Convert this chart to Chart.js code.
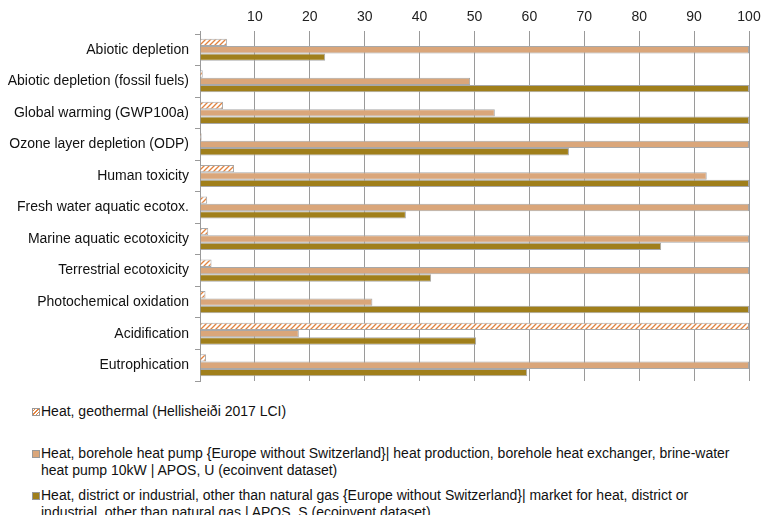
<!DOCTYPE html>
<html>
<head>
<meta charset="utf-8">
<script src="https://cdn.jsdelivr.net/npm/chart.js@4.4.0/dist/chart.umd.min.js"></script>
<style>
  body { margin: 0; background: #fff; font-family: "Liberation Sans", Arial, sans-serif; }
  #wrap { position: relative; width: 761px; height: 515px; }
  #legend { position: absolute; left: 0; top: 0; width: 761px; font-size: 14px; color: #111; }
  .item { position: absolute; left: 41px; line-height: 17px; white-space: nowrap; }
  .box { position: absolute; left: -9px; top: 5px; width: 6px; height: 6px; border: 1px solid #999; }
</style>
</head>
<body>
<div id="wrap">
  <canvas id="chart" width="761" height="390"></canvas>
  <div id="legend"></div>
</div>
<script>
const categories = [
  'Abiotic depletion',
  'Abiotic depletion (fossil fuels)',
  'Global warming (GWP100a)',
  'Ozone layer depletion (ODP)',
  'Human toxicity',
  'Fresh water aquatic ecotox.',
  'Marine aquatic ecotoxicity',
  'Terrestrial ecotoxicity',
  'Photochemical oxidation',
  'Acidification',
  'Eutrophication'
];
const geothermal = [4.9, 0.5, 4.2, 0.3, 6.2, 1.3, 1.5, 2.1, 1.0, 100, 1.1];
const boreholePump = [100, 49.2, 53.7, 100, 92.3, 100, 100, 100, 31.4, 18.0, 100];
const districtHeat = [22.8, 100, 100, 67.2, 100, 37.5, 84.0, 42.1, 100, 50.3, 59.6];
const xTicks = [0, 10, 20, 30, 40, 50, 60, 70, 80, 90, 100];

const seriesNames = [
  ['Heat, geothermal (Hellisheiði 2017 LCI)'],
  ['Heat, borehole heat pump {Europe without Switzerland}| heat production, borehole heat exchanger, brine-water',
   'heat pump 10kW | APOS, U (ecoinvent dataset)'],
  ['Heat, district or industrial, other than natural gas {Europe without Switzerland}| market for heat, district or',
   'industrial, other than natural gas | APOS, S (ecoinvent dataset)']
];

// hatch pattern for the geothermal bars
function hatch(size) {
  const c = document.createElement('canvas');
  c.width = size; c.height = size;
  const g = c.getContext('2d');
  g.fillStyle = '#ffffff';
  g.fillRect(0, 0, size, size);
  g.strokeStyle = '#E2833F';
  g.lineWidth = 1.3;
  g.beginPath();
  g.moveTo(0, size); g.lineTo(size, 0);
  g.moveTo(-1, 1); g.lineTo(1, -1);
  g.moveTo(size - 1, size + 1); g.lineTo(size + 1, size - 1);
  g.stroke();
  return g.createPattern(c, 'repeat');
}

const ctx = document.getElementById('chart').getContext('2d');
const geoFill = hatch(5);
const pumpColor = 'rgb(218,166,122)';
const districtColor = 'rgb(160,127,27)';

const chart = new Chart(ctx, {
  type: 'bar',
  data: {
    labels: categories,
    datasets: [
      { label: seriesNames[0].join(' '), data: geothermal, backgroundColor: geoFill, borderColor: '#a8a8a8', borderWidth: 1 },
      { label: seriesNames[1].join(' '), data: boreholePump, backgroundColor: pumpColor, borderColor: '#a8a8a8', borderWidth: 1 },
      { label: seriesNames[2].join(' '), data: districtHeat, backgroundColor: districtColor, borderColor: '#a8a8a8', borderWidth: 1 }
    ]
  },
  options: {
    indexAxis: 'y',
    responsive: false,
    animation: false,
    layout: { padding: { left: 0, right: 12, top: 0, bottom: 9 } },
    datasets: { bar: { categoryPercentage: 0.7, barPercentage: 1.0 } },
    plugins: { legend: { display: false }, tooltip: { enabled: false } },
    scales: {
      x: {
        position: 'top',
        min: 0, max: 100,
        afterBuildTicks: (s) => { s.ticks = xTicks.map(v => ({ value: v })); },
        afterFit: (s) => { s.height = 34; s.paddingLeft = 0; s.paddingRight = 0; },
        ticks: {
          callback: (v) => v === 0 ? '' : v,
          color: '#222',
          font: { family: 'Liberation Sans', size: 14 },
          padding: 5,
          maxRotation: 0
        },
        grid: { color: '#9a9a9a', lineWidth: 1, tickLength: 3 },
        border: { display: false }
      },
      y: {
        afterFit: (s) => { s.width = 200; s.paddingTop = 0; s.paddingBottom = 0; },
        ticks: {
          color: '#111',
          font: { family: 'Liberation Sans', size: 14 },
          padding: 6
        },
        grid: { offset: true, drawOnChartArea: false, color: '#9a9a9a', tickLength: 5 },
        border: { display: true, color: '#9a9a9a' }
      }
    }
  }
});

// legend below the plot, wrapped like the original
const legend = document.getElementById('legend');
const legendTops = [403, 445, 487];
const legendFills = ['hatch', pumpColor, districtColor];
seriesNames.forEach((lines, i) => {
  const d = document.createElement('div');
  d.className = 'item';
  d.style.top = legendTops[i] + 'px';
  const b = document.createElement('span');
  b.className = 'box';
  if (legendFills[i] === 'hatch') {
    b.style.background = 'repeating-linear-gradient(-45deg, #fff 0 1.5px, #E2833F 1.5px 2.5px)';
  } else {
    b.style.background = legendFills[i];
  }
  d.appendChild(b);
  d.appendChild(document.createTextNode(lines[0]));
  for (let k = 1; k < lines.length; k++) {
    d.appendChild(document.createElement('br'));
    d.appendChild(document.createTextNode(lines[k]));
  }
  legend.appendChild(d);
});
</script>
</body>
</html>
